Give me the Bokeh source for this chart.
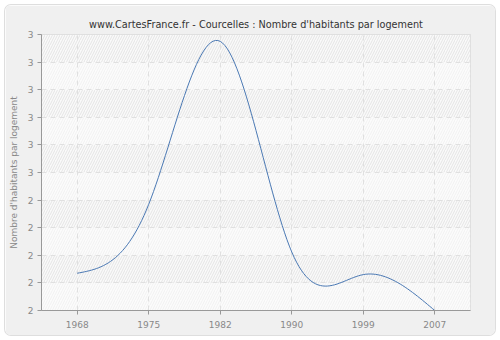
import numpy as np
from bokeh.plotting import figure
from bokeh.models import FixedTicker, Range1d
from bokeh.embed import file_html
from bokeh.resources import INLINE

# ---- data ----
years = ["1968", "1975", "1982", "1990", "1999", "2007"]
values = [2.135, 2.385, 2.975, 2.212, 2.130, 2.0]
y_ticks = [2.0, 2.1, 2.2, 2.3, 2.4, 2.5, 2.6, 2.7, 2.8, 2.9, 3.0]
y_tick_labels = ["2", "2", "2", "2", "2", "3", "3", "3", "3", "3", "3"]

title = "www.CartesFrance.fr - Courcelles : Nombre d'habitants par logement"
y_label = "Nombre d'habitants par logement"

FONT = "DejaVu Sans"

# natural cubic spline through the points (rendering of the smooth line)
xi = np.arange(len(values), dtype=float)
yi = np.array(values, dtype=float)
n = len(yi)
A = np.zeros((n, n))
b = np.zeros(n)
A[0, 0] = 1
A[-1, -1] = 1
for i in range(1, n - 1):
    A[i, i - 1] = 1
    A[i, i] = 4
    A[i, i + 1] = 1
    b[i] = 6 * (yi[i + 1] - 2 * yi[i] + yi[i - 1])
M = np.linalg.solve(A, b)
xs, ys = [], []
for i in range(n - 1):
    t = np.linspace(0, 1, 30, endpoint=(i == n - 2))
    a = 1 - t
    seg = a * yi[i] + t * yi[i + 1] + ((a ** 3 - a) * M[i] + (t ** 3 - t) * M[i + 1]) / 6.0
    xs.extend(list(xi[i] + t))
    ys.extend(list(seg))

p = figure(width=490, height=330, output_backend="svg", toolbar_location=None,
           x_range=Range1d(-0.5, len(years) - 0.5),
           y_range=Range1d(y_ticks[0], y_ticks[-1]),
           min_border_left=35, min_border_right=25, min_border_top=29, min_border_bottom=25,
           margin=(5, 5, 5, 5))
p.styles = {"border-radius": "6px", "overflow": "hidden", "box-shadow": "0 0 0 1px #dedede"}

p.border_fill_color = "#f0f0f0"
p.background_fill_color = "#fcfcfc"
p.outline_line_color = "#d6d6d6"

# alternating hatched bands
p.quad(left=-0.5, right=len(years) - 0.5, bottom=y_ticks[1:-1:2], top=y_ticks[2::2],
       fill_color="#fafafa", line_color=None, level="image",
       hatch_pattern="/", hatch_color="#e2e2e2", hatch_scale=5, hatch_weight=0.9)
p.quad(left=-0.5, right=len(years) - 0.5, bottom=y_ticks[0:-1:2], top=y_ticks[1::2],
       fill_color="#fcfcfc", line_color=None, level="image",
       hatch_pattern="/", hatch_color="#efefef", hatch_scale=5, hatch_weight=0.9)

p.line(xs, ys, line_color="#4a78b3", line_width=1)

# title
p.title.text = title
p.title.align = "center"
p.title.offset = 20
p.title.text_font = FONT
p.title.text_font_size = "9.7px"
p.title.text_font_style = "normal"
p.title.text_color = "#333333"

# axes
p.xaxis.ticker = FixedTicker(ticks=list(range(len(years))))
p.xaxis.major_label_overrides = {i: y for i, y in enumerate(years)}
p.yaxis.ticker = FixedTicker(ticks=y_ticks)
p.yaxis.major_label_overrides = {t: l for t, l in zip(y_ticks, y_tick_labels)}
p.yaxis.axis_label = y_label

for ax in (p.xaxis[0], p.yaxis[0]):
    ax.axis_line_color = "#999999"
    ax.major_tick_line_color = "#999999"
    ax.minor_tick_line_color = None
    ax.major_tick_in = 0
    ax.major_tick_out = 4
    ax.major_label_text_font = FONT
    ax.major_label_text_font_size = "9px"
    ax.major_label_text_color = "#888888"
    ax.axis_label_text_font = FONT
    ax.axis_label_text_font_size = "9px"
    ax.axis_label_text_font_style = "normal"
    ax.axis_label_text_color = "#888888"
p.yaxis.major_label_standoff = 4
p.yaxis.axis_label_standoff = 6
p.xaxis.major_label_standoff = 6

p.grid.grid_line_color = "#e0e0e0"
p.grid.grid_line_dash = "5 4"
p.xgrid.ticker = FixedTicker(ticks=list(range(len(years))))
p.ygrid.ticker = FixedTicker(ticks=y_ticks)

open("out.html", "w").write(file_html(p, INLINE))
